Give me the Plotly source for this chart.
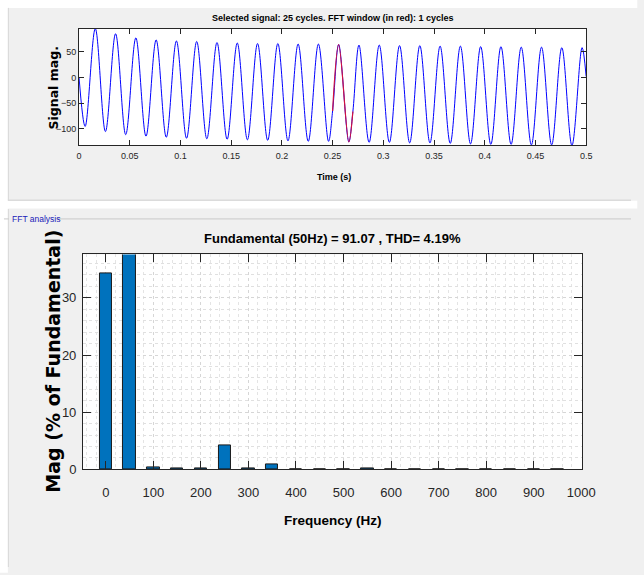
import plotly.graph_objects as go

W, H = 644, 575
def px(x): return x / W
def py(y): return 1 - y / H

# ---------------- data ----------------
start_t, start_v = [0.0], [0.0]
end_t, end_v = [0.5], [2.0]
trough_t = [0.006, 0.026, 0.046, 0.066, 0.086, 0.106, 0.126, 0.146, 0.166, 0.186,
            0.206, 0.226, 0.246, 0.266, 0.286, 0.306, 0.326, 0.346, 0.366, 0.386,
            0.406, 0.426, 0.446, 0.466, 0.486]
trough_v = [-95, -105, -111, -114, -116, -118, -119, -120, -121, -122,
            -123, -124, -124, -125, -126, -126, -127, -127, -128, -129,
            -130, -130, -131, -131, -132]
peak_t = [0.016, 0.036, 0.056, 0.076, 0.096, 0.116, 0.136, 0.156, 0.176, 0.196,
          0.216, 0.236, 0.256, 0.276, 0.296, 0.316, 0.336, 0.356, 0.376, 0.396,
          0.416, 0.436, 0.456, 0.476, 0.496]
peak_v = [95, 85, 77, 73, 71, 70, 68, 67, 66, 66,
          65, 65, 64, 63, 63, 62, 62, 61, 61, 60,
          60, 59, 59, 58, 58]
window_t = [0.25, 0.27]      # FFT window edges (red segment)
window_v = [-65, -66]

freq = [0, 50, 100, 150, 200, 250, 300, 350, 400, 450,
        500, 550, 600, 650, 700, 750, 800, 850, 900, 950]
mag = [34.2, 100, 0.35, 0.15, 0.15, 4.15, 0.1, 0.8, 0.08, 0.08,
       0.08, 0.15, 0.08, 0.08, 0.08, 0.08, 0.08, 0.08, 0.08, 0.08]
freq_ticks = [0, 100, 200, 300, 400, 500, 600, 700, 800, 900, 1000]
mag_ticks = [0, 10, 20, 30]
time_ticks = [0, 0.05, 0.1, 0.15, 0.2, 0.25, 0.3, 0.35, 0.4, 0.45, 0.5]
sig_ticks = [-100, -50, 0, 50]

# merge signal points
pts = sorted(zip(start_t + trough_t + peak_t + window_t + end_t,
                 start_v + trough_v + peak_v + window_v + end_v))
sig_t = [p[0] for p in pts]
sig_v = [p[1] for p in pts]
red = [(t, v) for t, v in pts if window_t[0] <= t <= window_t[1]]
red_t = [p[0] for p in red]
red_v = [p[1] for p in red]

NARROW = "Liberation Sans, Arial, sans-serif"
WIDE = "DejaVu Sans, Liberation Sans, sans-serif"
AX = "#262626"
BG = "#f0f0f0"

fig = go.Figure()
fig.add_trace(go.Scatter(x=sig_t, y=sig_v, mode="lines",
                         line=dict(color="#0000ff", width=1, shape="spline"),
                         xaxis="x", yaxis="y", showlegend=False, hoverinfo="skip"))
fig.add_trace(go.Scatter(x=red_t, y=red_v, mode="lines",
                         line=dict(color="#d01040", width=1.2, shape="spline"),
                         xaxis="x", yaxis="y", showlegend=False, hoverinfo="skip"))
fig.add_trace(go.Bar(x=freq, y=mag, width=26,
                     marker=dict(color="#0072BD", line=dict(color="#1a1a1a", width=1)),
                     xaxis="x2", yaxis="y2", showlegend=False))

common = dict(ticks="inside", tickcolor=AX, showline=True, linecolor=AX, linewidth=1,
              mirror="ticks", zeroline=False)

fig.update_layout(
    width=W, height=H, margin=dict(l=0, r=0, t=0, b=0),
    paper_bgcolor=BG, plot_bgcolor="#ffffff",
    bargap=0,
    xaxis=dict(domain=[px(78), px(598)], anchor="y", range=[0, 0.5],
               tickvals=time_ticks, ticktext=[f"{v:g}" for v in time_ticks],
               ticklen=5, showgrid=False,
               tickfont=dict(family=NARROW, size=9, color=AX), ticklabelstandoff=2, **common),
    yaxis=dict(domain=[py(147), py(29)], anchor="x", range=[-131, 95],
               tickvals=sig_ticks, ticklen=5, showgrid=False,
               tickfont=dict(family=NARROW, size=9, color=AX), ticklabelstandoff=0, **common),
    xaxis2=dict(domain=[px(82), px(594)], anchor="y2", range=[-48, 1002],
                tickvals=freq_ticks, ticklen=8,
                showgrid=True, gridcolor="#d6d6d6", griddash="dot", gridwidth=1,
                minor=dict(dtick=20, tick0=0, showgrid=True, gridcolor="#e4e4e4", griddash="dot"),
                tickfont=dict(family=NARROW, size=13, color=AX), ticklabelstandoff=11, **common),
    yaxis2=dict(domain=[py(476), py(258)], anchor="x2", range=[0, 37.6],
                tickvals=mag_ticks, ticklen=8,
                showgrid=True, gridcolor="#d6d6d6", griddash="dot", gridwidth=1,
                minor=dict(dtick=2, tick0=0, showgrid=True, gridcolor="#e0e0e0", griddash="dot"),
                tickfont=dict(family=NARROW, size=13, color=AX), ticklabelstandoff=3, **common),
)

shapes = [
    # white margins: left strip, top strip, strip between panels
    dict(type="rect", xref="paper", yref="paper", x0=-0.01, x1=px(5), y0=-0.01, y1=1.01,
         fillcolor="#ffffff", line=dict(width=0), layer="below"),
    dict(type="rect", xref="paper", yref="paper", x0=-0.01, x1=1.01, y0=py(8), y1=1.01,
         fillcolor="#ffffff", line=dict(width=0), layer="below"),
    dict(type="rect", xref="paper", yref="paper", x0=-0.01, x1=1.01, y0=py(211.5), y1=py(203.5),
         fillcolor="#ffffff", line=dict(width=0), layer="below"),
    # panel borders
    dict(type="line", xref="paper", yref="paper", x0=px(5), x1=1, y0=py(203), y1=py(203),
         line=dict(color="#cfcfcf", width=1)),
    dict(type="line", xref="paper", yref="paper", x0=px(5.5), x1=px(5.5), y0=py(203), y1=py(8),
         line=dict(color="#d8d8d8", width=1)),
    dict(type="line", xref="paper", yref="paper", x0=px(5.5), x1=px(5.5), y0=0, y1=py(212),
         line=dict(color="#d8d8d8", width=1)),
    # group-box line of "FFT analysis"
    dict(type="line", xref="paper", yref="paper", x0=px(1), x1=px(6), y0=py(222), y1=py(222),
         line=dict(color="#cacaca", width=1)),
    dict(type="line", xref="paper", yref="paper", x0=px(54), x1=1, y0=py(222), y1=py(222),
         line=dict(color="#cacaca", width=1)),
]
fig.update_layout(shapes=shapes)

def ann(text, x, y, size, family=NARROW, bold=False, color="#000000", angle=0, xanchor="center"):
    return dict(text=text, x=px(x), y=py(y), xref="paper", yref="paper",
                xanchor=xanchor, yanchor="middle", showarrow=False, textangle=angle,
                font=dict(family=family, size=size, color=color,
                          weight="bold" if bold else "normal"))

fig.update_layout(annotations=[
    ann("Selected signal: 25 cycles. FFT window (in red): 1 cycles", 338, 18, 9, bold=True),
    ann("Time (s)", 339, 179, 9, bold=True),
    ann("Signal mag.", 52, 89, 12.5, family=WIDE, bold=True, angle=-90),
    ann("FFT analysis", 7, 222, 8.5, color="#2020b8", xanchor="left"),
    ann("Fundamental (50Hz) = 91.07 , THD= 4.19%", 338, 242, 13, bold=True),
    ann("Frequency (Hz)", 338, 528, 13.5, bold=True),
    ann("Mag (% of Fundamental)", 51, 366, 19, family=WIDE, bold=True, angle=-90),
])

fig.write_html("out.html")
